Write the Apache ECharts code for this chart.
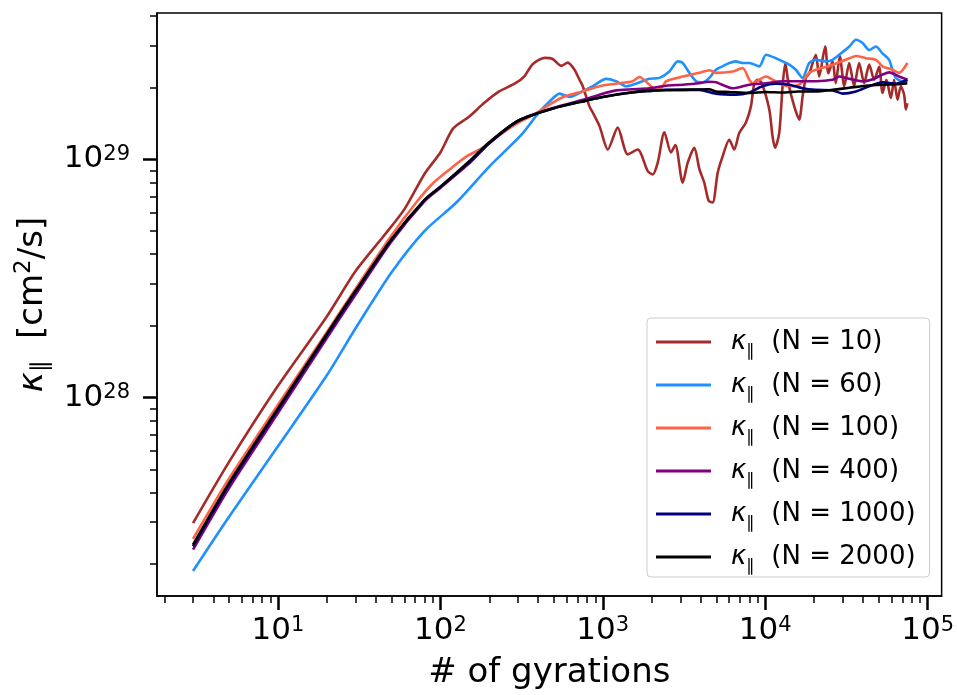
<!DOCTYPE html>
<html><head><meta charset="utf-8">
<script src="https://cdn.jsdelivr.net/npm/echarts@6/dist/echarts.min.js"></script>
<style>html,body{margin:0;padding:0;background:#fff}#c{width:957px;height:695px}</style>
</head><body><div id="c"></div>
<script>
const FONT = 'DejaVu Sans';
const seriesNames = ['N = 10', 'N = 60', 'N = 100', 'N = 400', 'N = 1000', 'N = 2000'];
const seriesColors = ['#a52a2a', '#1e90ff', '#ff6347', '#800080', '#000080', '#000000'];

const kappaN10 = [[3,2.97e27],[5,5.37e27],[10,1.12e28],[20,2.19e28],[30,3.39e28],[45,4.79e28],[60,6.17e28],[80,8.71e28],[100,1.07e29],[120,1.35e29],[150,1.51e29],[185,1.72e29],[230,1.93e29],[290,2.09e29],[330,2.24e29],[370,2.51e29],[438,2.67e29],[492,2.64e29],[554,2.47e29],[609,2.55e29],[670,2.38e29],[719,2.16e29],[753,2.03e29],[828,1.67e29],[869,1.57e29],[955,1.38e29],[1074,1.10e29],[1236,1.36e29],[1425,1.05e29],[1641,1.10e29],[1891,8.93e28],[2030,8.65e28],[2180,9.69e28],[2395,1.30e29],[2630,1.07e29],[2798,1.15e29],[3105,7.98e28],[3334,9.69e28],[3663,1.12e29],[3935,9.10e28],[4220,7.98e28],[4487,6.70e28],[4750,6.60e28],[5100,8.79e28],[5470,1.03e29],[6010,1.21e29],[6450,1.10e29],[6920,1.29e29],[7610,1.43e29],[8170,1.67e29],[8570,2.09e29],[8980,2.16e29],[9500,2.10e29],[10600,1.62e29],[11100,1.25e29],[11500,1.12e29],[12200,1.29e29],[12800,2.03e29],[13300,2.54e29],[13900,2.09e29],[15100,1.67e29],[16200,1.47e29],[17000,1.84e29],[17800,2.20e29],[18700,2.30e29],[20500,2.75e29],[21500,2.23e29],[23400,2.98e29],[24500,2.30e29],[26000,2.58e29],[27200,2.09e29],[28800,2.71e29],[30700,2.03e29],[32900,2.54e29],[35300,2.03e29],[37900,2.54e29],[40700,2.09e29],[43700,2.50e29],[46900,2.16e29],[50300,2.45e29],[52800,1.90e29],[55800,2.16e29],[59400,1.81e29],[62200,2.16e29],[65300,1.78e29],[68400,2.03e29],[71700,1.87e29],[73500,1.62e29],[75000,1.72e29]];

const kappaN60 = [[3,1.87e27],[5,3.16e27],[10,6.24e27],[20,1.24e28],[30,1.95e28],[50,3.35e28],[80,5.01e28],[126,6.61e28],[200,9.33e28],[316,1.27e29],[400,1.56e29],[470,1.75e29],[542,1.89e29],[624,1.83e29],[753,1.93e29],[869,2.03e29],[1050,2.18e29],[1208,2.13e29],[1393,2.03e29],[1531,2.06e29],[1762,2.13e29],[1936,2.18e29],[2234,2.20e29],[2570,2.34e29],[2897,2.58e29],[3105,2.54e29],[3412,2.31e29],[3750,2.13e29],[4121,2.11e29],[4529,2.20e29],[4977,2.38e29],[5470,2.46e29],[6012,2.54e29],[6607,2.58e29],[7261,2.54e29],[7980,2.54e29],[9204,2.46e29],[10116,2.75e29],[11641,2.66e29],[12794,2.58e29],[14060,2.50e29],[15453,2.38e29],[16982,2.20e29],[18664,2.54e29],[20512,2.62e29],[23659,2.58e29],[26002,2.62e29],[28576,2.75e29],[32961,2.98e29],[36224,3.18e29],[39811,3.08e29],[43752,2.88e29],[48084,2.98e29],[52723,2.79e29],[57943,2.62e29],[60814,2.38e29],[63826,2.20e29],[70146,2.13e29],[75162,2.13e29]];

const kappaN100 = [[3,2.55e27],[5,4.57e27],[10,9.33e27],[20,1.88e28],[30,2.86e28],[50,4.79e28],[71,6.59e28],[90,7.94e28],[114,9.08e28],[145,1.03e29],[183,1.12e29],[230,1.26e29],[293,1.41e29],[380,1.55e29],[470,1.70e29],[594,1.85e29],[753,1.93e29],[955,2.03e29],[1208,2.08e29],[1531,2.13e29],[1683,2.22e29],[1936,2.06e29],[2128,1.96e29],[2339,2.03e29],[2455,2.13e29],[3105,2.23e29],[3935,2.31e29],[4529,2.37e29],[4977,2.31e29],[6310,2.34e29],[7261,2.42e29],[7980,2.16e29],[8375,2.09e29],[10116,2.23e29],[11117,2.16e29],[12794,2.06e29],[14060,2.03e29],[16218,2.06e29],[18664,2.31e29],[20512,2.38e29],[26002,2.50e29],[32961,2.66e29],[36224,2.72e29],[41687,2.66e29],[48084,2.62e29],[52723,2.46e29],[60814,2.38e29],[66834,2.31e29],[75162,2.54e29]];

const kappaN400 = [[3,2.30e27],[5,4.17e27],[10,8.61e27],[20,1.78e28],[30,2.70e28],[50,4.52e28],[80,6.68e28],[100,7.59e28],[150,9.6e28],[200,1.17e29],[300,1.45e29],[500,1.65e29],[755,1.78e29],[955,1.87e29],[1208,1.95e29],[1531,1.97e29],[1936,1.99e29],[2455,2.04e29],[3105,2.06e29],[3935,2.09e29],[4500,2.12e29],[4977,2.11e29],[6310,1.99e29],[7980,2.06e29],[10116,2.09e29],[12794,2.13e29],[16200,2.13e29],[20512,2.13e29],[26002,2.16e29],[28576,2.23e29],[32961,2.18e29],[39811,2.13e29],[45000,2.16e29],[52723,2.27e29],[57943,2.32e29],[66834,2.23e29],[75162,2.16e29]];

const kappaN1000 = [[3,2.37e27],[5,4.32e27],[10,8.91e27],[20,1.83e28],[30,2.78e28],[50,4.60e28],[80,6.76e28],[100,7.67e28],[150,9.7e28],[200,1.17e29],[300,1.45e29],[500,1.64e29],[800,1.77e29],[1000,1.83e29],[1500,1.91e29],[2000,1.94e29],[2455,1.96e29],[3935,1.96e29],[4977,1.89e29],[6607,1.87e29],[7980,1.91e29],[9600,2.03e29],[11641,2.08e29],[14060,2.06e29],[16982,1.99e29],[20512,1.96e29],[26002,1.95e29],[30000,1.89e29],[36224,1.93e29],[43752,2.03e29],[52723,2.11e29],[63826,2.08e29],[75162,2.16e29]];

const kappaN2000 = [[3,2.41e27],[5,4.37e27],[10,9.0e27],[20,1.85e28],[30,2.80e28],[50,4.62e28],[80,6.76e28],[100,7.67e28],[150,9.8e28],[200,1.18e29],[300,1.45e29],[500,1.64e29],[800,1.77e29],[1000,1.83e29],[1500,1.91e29],[2000,1.95e29],[3100,1.96e29],[4500,1.97e29],[5000,1.93e29],[6000,1.92e29],[8000,1.90e29],[10000,1.92e29],[12800,1.91e29],[16000,1.93e29],[20500,1.93e29],[26000,1.96e29],[33000,2.0e29],[41700,2.04e29],[52800,2.06e29],[65000,2.07e29],[75000,2.09e29]];

const xMajorTicks = [10, 100, 1000, 10000, 100000];
const xMinorTicks = [2,3,4,5,6,7,8,9,20,30,40,50,60,70,80,90,200,300,400,500,600,700,800,900,2000,3000,4000,5000,6000,7000,8000,9000,20000,30000,40000,50000,60000,70000,80000,90000];
const yMajorTicks = [1e28, 1e29];
const yMinorTicks = [2e27,3e27,4e27,5e27,6e27,7e27,8e27,9e27,2e28,3e28,4e28,5e28,6e28,7e28,8e28,9e28,2e29,3e29,4e29];
const xTitle = '# of gyrations';
const yTitle = '{k|κ}{s|∥}{t|  [cm}{sup|2}{t|/s]}';

const X_MIN = 1.80, X_MAX = 1.22e5, Y_MIN = 1.468e27, Y_MAX = 4.12e29;

const seriesData = [kappaN10, kappaN60, kappaN100, kappaN400, kappaN1000, kappaN2000];
const powLabel = v => '10{sup|' + Math.round(Math.log10(v)) + '}';
const supStyle = {fontSize: 21, lineHeight: 22, verticalAlign: 'top', fontFamily: FONT, color: '#000'};

const chart = echarts.init(document.getElementById('c'), null, {renderer: 'canvas'});
chart.setOption({
  animation: false,
  backgroundColor: '#fff',
  grid: {left: 157, right: 14, top: 13, bottom: 97, show: true, borderColor: '#000', borderWidth: 1.5, backgroundColor: 'transparent'},
  xAxis: [
    {type: 'log', logBase: 10, min: X_MIN, max: X_MAX, position: 'bottom', gridIndex: 0,
     name: xTitle, nameLocation: 'middle', nameGap: 60,
     nameTextStyle: {fontSize: 34, color: '#000', fontFamily: FONT},
     axisLine: {show: true, onZero: false, lineStyle: {color: '#000', width: 1.5}},
     axisTick: {show: true, customValues: xMajorTicks, length: 14, lineStyle: {color: '#000', width: 2.5}},
     axisLabel: {show: true, customValues: xMajorTicks, formatter: powLabel, fontSize: 31, margin: 19, color: '#000', fontFamily: FONT, rich: {sup: supStyle}},
     splitLine: {show: false}, minorTick: {show: false}},
    {type: 'log', logBase: 10, min: X_MIN, max: X_MAX, position: 'bottom', gridIndex: 0, silent: true,
     axisLine: {show: false, onZero: false},
     axisTick: {show: true, customValues: xMinorTicks, length: 7, lineStyle: {color: '#000', width: 1.5}},
     axisLabel: {show: false}, splitLine: {show: false}}
  ],
  yAxis: [
    {type: 'log', logBase: 10, min: Y_MIN, max: Y_MAX, position: 'left', gridIndex: 0,
     name: yTitle, nameLocation: 'middle', nameGap: 104,
     nameTextStyle: {fontSize: 34, color: '#000', fontFamily: FONT, rich: {
       k: {fontSize: 34, fontStyle: 'italic', lineHeight: 40, fontFamily: FONT, color: '#000'},
       s: {fontSize: 23, lineHeight: 23, padding: [17, 0, 0, 0], fontFamily: FONT, color: '#000'},
       t: {fontSize: 34, lineHeight: 40, fontFamily: FONT, color: '#000'},
       sup: {fontSize: 23, lineHeight: 23, padding: [0, 0, 17, 0], fontFamily: FONT, color: '#000'}}},
     axisLine: {show: true, onZero: false, lineStyle: {color: '#000', width: 1.5}},
     axisTick: {show: true, customValues: yMajorTicks, length: 14, lineStyle: {color: '#000', width: 2.5}},
     axisLabel: {show: true, customValues: yMajorTicks, formatter: powLabel, fontSize: 31, margin: 27, color: '#000', fontFamily: FONT, rich: {sup: supStyle}},
     splitLine: {show: false}},
    {type: 'log', logBase: 10, min: Y_MIN, max: Y_MAX, position: 'left', gridIndex: 0, silent: true,
     axisLine: {show: false, onZero: false},
     axisTick: {show: true, customValues: yMinorTicks, length: 7, lineStyle: {color: '#000', width: 1.5}},
     axisLabel: {show: false}, splitLine: {show: false}}
  ],
  legend: {
    orient: 'vertical', left: 647, top: 318, padding: [6, 14, 2, 9], itemGap: 7,
    itemWidth: 55, itemHeight: 3, icon: 'rect', selectedMode: false,
    backgroundColor: 'rgba(255,255,255,0.8)', borderColor: '#cccccc', borderWidth: 1, borderRadius: 4,
    data: seriesNames,
    formatter: n => '{k|κ}{s|∥}{t|  (' + n + ')}',
    textStyle: {fontSize: 26, fontFamily: FONT, color: '#000', rich: {
      k: {fontSize: 26, fontStyle: 'italic', lineHeight: 30, padding: [0, 0, 0, 15], fontFamily: FONT, color: '#000'},
      s: {fontSize: 17, lineHeight: 17, padding: [19, 0, 0, 0], fontFamily: FONT, color: '#000'},
      t: {fontSize: 26, lineHeight: 30, fontFamily: FONT, color: '#000'}}}
  },
  series: seriesNames.map((n, i) => ({
    name: n, type: 'line', xAxisIndex: 0, yAxisIndex: 0,
    data: seriesData[i], showSymbol: false, symbol: 'none', smooth: 0.25,
    lineStyle: {width: 2.6, color: seriesColors[i]}, itemStyle: {color: seriesColors[i]},
    emphasis: {disabled: true}
  }))
});
</script></body></html>
